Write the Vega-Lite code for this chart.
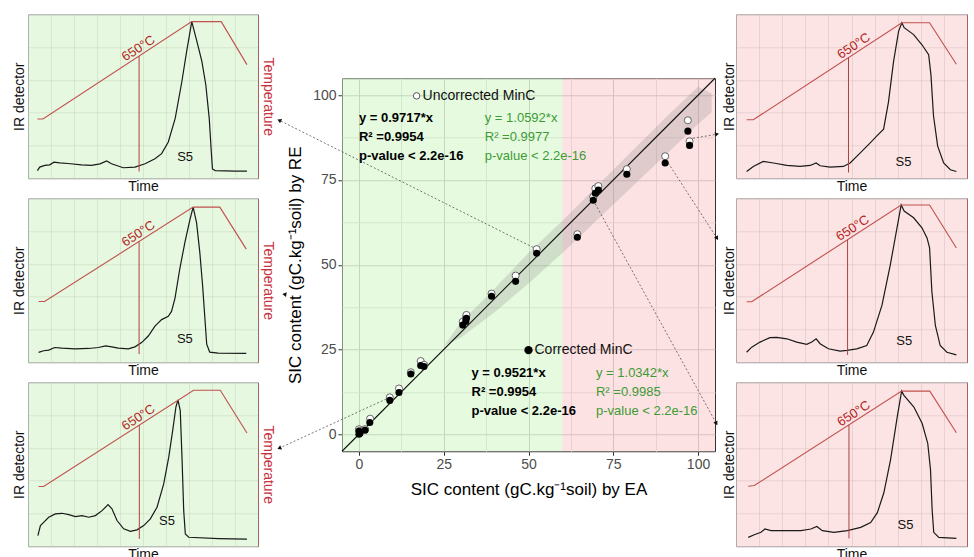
{
  "$schema": "https://vega.github.io/schema/vega-lite/v6.json",
  "padding": {"left": 11, "top": 13, "right": 0, "bottom": 0},
  "background": "white",
  "config": {"font": "Liberation Sans", "view": {"stroke": null}, "axis": {"titleFontWeight": "normal"}},
  "datasets": {
    "zones": [
      {"x": -5, "x2": 60, "y": -5, "y2": 105, "zone": "EA below 60"},
      {"x": 60, "x2": 105, "y": -5, "y2": 105, "zone": "EA above 60"}
    ],
    "band": [
      {"x": 25.5, "y": 26.3, "y2": 26.6},
      {"x": 30, "y": 28.5, "y2": 33},
      {"x": 40, "y": 36, "y2": 43},
      {"x": 50, "y": 44.5, "y2": 53.5},
      {"x": 60, "y": 53.5, "y2": 63},
      {"x": 70, "y": 63, "y2": 73},
      {"x": 80, "y": 72.5, "y2": 83},
      {"x": 90, "y": 82, "y2": 93},
      {"x": 100, "y": 91.5, "y2": 102.5},
      {"x": 104, "y": 95, "y2": 100.5}
    ],
    "diag": [{"x": -5, "y": -5}, {"x": 105, "y": 105}],
    "arrows": [
      {"id": "L1", "x": 52.4, "y": 54.6, "x2": -23.5, "y2": 92.6, "line": true},
      {"id": "L2", "x": 30.6, "y": 33.2, "x2": -22, "y2": 41.3, "line": false},
      {"id": "L3", "x": 9.1, "y": 10.9, "x2": -23.5, "y2": -4.1, "line": true},
      {"id": "R1", "x": 98.5, "y": 87.3, "x2": 105.6, "y2": 88.5, "line": true},
      {"id": "R2", "x": 91.2, "y": 80, "x2": 105.6, "y2": 57.8, "line": true},
      {"id": "R3", "x": 69.1, "y": 69, "x2": 105.4, "y2": 3.2, "line": true}
    ],
    "pts": [
      {"x": 0, "y": 0, "kind": "Corrected"}, {"x": 0, "y": 0.9, "kind": "Corrected"}, {"x": 0.3, "y": 0.3, "kind": "Corrected"},
      {"x": 1.8, "y": 1.2, "kind": "Corrected"}, {"x": 3.2, "y": 3.5, "kind": "Corrected"}, {"x": 9.1, "y": 10, "kind": "Corrected"},
      {"x": 11.8, "y": 12.3, "kind": "Corrected"}, {"x": 15.3, "y": 17.8, "kind": "Corrected"}, {"x": 18.2, "y": 20.3, "kind": "Corrected"},
      {"x": 19.2, "y": 20.0, "kind": "Corrected"}, {"x": 30.6, "y": 32.2, "kind": "Corrected"}, {"x": 31.5, "y": 33.3, "kind": "Corrected"},
      {"x": 31.7, "y": 34.2, "kind": "Corrected"}, {"x": 39.1, "y": 40.7, "kind": "Corrected"}, {"x": 46.2, "y": 45.1, "kind": "Corrected"},
      {"x": 52.4, "y": 53.4, "kind": "Corrected"}, {"x": 64.4, "y": 58.1, "kind": "Corrected"}, {"x": 69.1, "y": 69.0, "kind": "Corrected"},
      {"x": 69.7, "y": 71.1, "kind": "Corrected"}, {"x": 70.6, "y": 72.0, "kind": "Corrected"}, {"x": 79, "y": 76.7, "kind": "Corrected"},
      {"x": 90.3, "y": 80, "kind": "Corrected"}, {"x": 97, "y": 89.4, "kind": "Corrected"}, {"x": 97.5, "y": 85.2, "kind": "Corrected"},
      {"x": 0, "y": 1.5, "kind": "Uncorrected"}, {"x": 0.2, "y": 1.0, "kind": "Uncorrected"}, {"x": 1.8, "y": 1.5, "kind": "Uncorrected"},
      {"x": 3.3, "y": 4.6, "kind": "Uncorrected"}, {"x": 9.1, "y": 10.9, "kind": "Uncorrected"}, {"x": 11.8, "y": 13.5, "kind": "Uncorrected"},
      {"x": 15.3, "y": 18.3, "kind": "Uncorrected"}, {"x": 18.2, "y": 21.6, "kind": "Uncorrected"}, {"x": 19.2, "y": 20.5, "kind": "Uncorrected"},
      {"x": 30.6, "y": 33.2, "kind": "Uncorrected"}, {"x": 31.5, "y": 34.3, "kind": "Uncorrected"}, {"x": 31.7, "y": 35.2, "kind": "Uncorrected"},
      {"x": 39.1, "y": 41.5, "kind": "Uncorrected"}, {"x": 46.2, "y": 46.8, "kind": "Uncorrected"}, {"x": 52.4, "y": 54.6, "kind": "Uncorrected"},
      {"x": 64.4, "y": 59.0, "kind": "Uncorrected"}, {"x": 69.1, "y": 70.0, "kind": "Uncorrected"}, {"x": 69.7, "y": 72.5, "kind": "Uncorrected"},
      {"x": 70.6, "y": 73.2, "kind": "Uncorrected"}, {"x": 79, "y": 78.2, "kind": "Uncorrected"}, {"x": 90.3, "y": 82, "kind": "Uncorrected"},
      {"x": 97, "y": 92.6, "kind": "Uncorrected"}, {"x": 97.5, "y": 86.4, "kind": "Uncorrected"}
    ],
    "keys": [
      {"x": 17, "y": 99.8, "kind": "Uncorrected", "label": "Uncorrected MinC"},
      {"x": 50, "y": 24.8, "kind": "Corrected", "label": "Corrected MinC"}
    ],
    "eqs": [
      {"x": 0, "y": 93.2, "label": "y = 0.9717*x", "grp": "black"},
      {"x": 0, "y": 87.6, "label": "R² =0.9954", "grp": "black"},
      {"x": 0, "y": 82.0, "label": "p-value < 2.2e-16", "grp": "black"},
      {"x": 37.1, "y": 93.2, "label": "y = 1.0592*x", "grp": "green"},
      {"x": 37.1, "y": 87.6, "label": "R² =0.9977", "grp": "green"},
      {"x": 37.1, "y": 82.0, "label": "p-value < 2.2e-16", "grp": "green"},
      {"x": 33.2, "y": 18.0, "label": "y = 0.9521*x", "grp": "black"},
      {"x": 33.2, "y": 12.4, "label": "R² =0.9954", "grp": "black"},
      {"x": 33.2, "y": 6.8, "label": "p-value < 2.2e-16", "grp": "black"},
      {"x": 69.9, "y": 18.0, "label": "y = 1.0342*x", "grp": "green"},
      {"x": 69.9, "y": 12.4, "label": "R² =0.9985", "grp": "green"},
      {"x": 69.9, "y": 6.8, "label": "p-value < 2.2e-16", "grp": "green"}
    ],
    "curves": [
      {"p":"L1","s":"T","t":4.1,"v":36.1},{"p":"L1","s":"T","t":6.5,"v":36.1},{"p":"L1","s":"T","t":71.2,"v":95.5},{"p":"L1","s":"T","t":84,"v":95.5},{"p":"L1","s":"T","t":95.2,"v":69.3},
      {"p":"L2","s":"T","t":4.6,"v":37},{"p":"L2","s":"T","t":7.2,"v":37},{"p":"L2","s":"T","t":71.8,"v":94.6},{"p":"L2","s":"T","t":83.4,"v":94.6},{"p":"L2","s":"T","t":94.9,"v":69},
      {"p":"L3","s":"T","t":4.6,"v":36.4},{"p":"L3","s":"T","t":6.8,"v":36.4},{"p":"L3","s":"T","t":72,"v":95.1},{"p":"L3","s":"T","t":83.6,"v":95.1},{"p":"L3","s":"T","t":95.2,"v":69.1},
      {"p":"R1","s":"T","t":4.6,"v":35.7},{"p":"R1","s":"T","t":7.5,"v":35.7},{"p":"R1","s":"T","t":71.8,"v":94.8},{"p":"R1","s":"T","t":83.8,"v":94.8},{"p":"R1","s":"T","t":95.4,"v":69.5},
      {"p":"R2","s":"T","t":4.6,"v":36.9},{"p":"R2","s":"T","t":6.8,"v":36.9},{"p":"R2","s":"T","t":71.5,"v":95.9},{"p":"R2","s":"T","t":83.8,"v":95.9},{"p":"R2","s":"T","t":95.4,"v":69.7},
      {"p":"R3","s":"T","t":5.3,"v":36.6},{"p":"R3","s":"T","t":7.9,"v":37},{"p":"R3","s":"T","t":71.7,"v":94.6},{"p":"R3","s":"T","t":83.9,"v":94.6},{"p":"R3","s":"T","t":95.4,"v":69.2},
      {"p":"L1","s":"IR","t":4.1,"v":4.7},{"p":"L1","s":"IR","t":5.1,"v":6.8},{"p":"L1","s":"IR","t":7.3,"v":7.8},{"p":"L1","s":"IR","t":9.4,"v":8.2},{"p":"L1","s":"IR","t":11.3,"v":9.8},{"p":"L1","s":"IR","t":13.8,"v":9.4},{"p":"L1","s":"IR","t":17.4,"v":9.0},{"p":"L1","s":"IR","t":23.3,"v":8.2},{"p":"L1","s":"IR","t":27.6,"v":7.8},{"p":"L1","s":"IR","t":31.3,"v":8.8},{"p":"L1","s":"IR","t":34.2,"v":10.5},{"p":"L1","s":"IR","t":36.3,"v":8.8},{"p":"L1","s":"IR","t":41.4,"v":6.4},{"p":"L1","s":"IR","t":46.5,"v":6.8},{"p":"L1","s":"IR","t":50.9,"v":8.8},{"p":"L1","s":"IR","t":55.2,"v":11.9},{"p":"L1","s":"IR","t":58.1,"v":15.0},{"p":"L1","s":"IR","t":61.0,"v":22.1},{"p":"L1","s":"IR","t":64.0,"v":36.5},{"p":"L1","s":"IR","t":66.9,"v":59.0},{"p":"L1","s":"IR","t":69.0,"v":77.5},{"p":"L1","s":"IR","t":71.2,"v":95.5},{"p":"L1","s":"IR","t":73.4,"v":83.6},{"p":"L1","s":"IR","t":75.6,"v":71.3},{"p":"L1","s":"IR","t":77.3,"v":57.0},{"p":"L1","s":"IR","t":78.8,"v":36.5},{"p":"L1","s":"IR","t":79.7,"v":16.0},{"p":"L1","s":"IR","t":80.2,"v":5.7},{"p":"L1","s":"IR","t":81.4,"v":4.7},{"p":"L1","s":"IR","t":90.1,"v":4.3},{"p":"L1","s":"IR","t":95.2,"v":4.3},
      {"p":"L2","s":"IR","t":4.6,"v":6.0},{"p":"L2","s":"IR","t":6.8,"v":7.0},{"p":"L2","s":"IR","t":9.0,"v":7.4},{"p":"L2","s":"IR","t":11.6,"v":9.0},{"p":"L2","s":"IR","t":14.7,"v":8.6},{"p":"L2","s":"IR","t":20.5,"v":8.2},{"p":"L2","s":"IR","t":26.3,"v":8.4},{"p":"L2","s":"IR","t":30.6,"v":9.0},{"p":"L2","s":"IR","t":33.8,"v":10.0},{"p":"L2","s":"IR","t":36.4,"v":9.4},{"p":"L2","s":"IR","t":39.3,"v":8.6},{"p":"L2","s":"IR","t":43.6,"v":8.2},{"p":"L2","s":"IR","t":46.5,"v":9.4},{"p":"L2","s":"IR","t":49.4,"v":12.0},{"p":"L2","s":"IR","t":52.3,"v":16.0},{"p":"L2","s":"IR","t":55.2,"v":22.0},{"p":"L2","s":"IR","t":58.1,"v":26.0},{"p":"L2","s":"IR","t":61.0,"v":28.0},{"p":"L2","s":"IR","t":62.4,"v":31.0},{"p":"L2","s":"IR","t":63.9,"v":39.0},{"p":"L2","s":"IR","t":66.0,"v":57.0},{"p":"L2","s":"IR","t":68.2,"v":73.0},{"p":"L2","s":"IR","t":70.4,"v":87.0},{"p":"L2","s":"IR","t":71.8,"v":94.6},{"p":"L2","s":"IR","t":73.3,"v":85.0},{"p":"L2","s":"IR","t":74.7,"v":67.0},{"p":"L2","s":"IR","t":75.9,"v":47.0},{"p":"L2","s":"IR","t":76.9,"v":27.0},{"p":"L2","s":"IR","t":77.7,"v":11.0},{"p":"L2","s":"IR","t":79.0,"v":6.2},{"p":"L2","s":"IR","t":82.7,"v":5.6},{"p":"L2","s":"IR","t":94.9,"v":5.4},
      {"p":"L3","s":"IR","t":4.3,"v":6.5},{"p":"L3","s":"IR","t":5.4,"v":12.6},{"p":"L3","s":"IR","t":6.8,"v":14.6},{"p":"L3","s":"IR","t":9.0,"v":17.7},{"p":"L3","s":"IR","t":11.9,"v":19.7},{"p":"L3","s":"IR","t":14.8,"v":20.1},{"p":"L3","s":"IR","t":17.7,"v":19.3},{"p":"L3","s":"IR","t":20.6,"v":18.1},{"p":"L3","s":"IR","t":23.5,"v":18.7},{"p":"L3","s":"IR","t":26.4,"v":17.7},{"p":"L3","s":"IR","t":29.3,"v":18.7},{"p":"L3","s":"IR","t":32.2,"v":21.7},{"p":"L3","s":"IR","t":34.8,"v":25.4},{"p":"L3","s":"IR","t":36.5,"v":22.8},{"p":"L3","s":"IR","t":38.7,"v":15.7},{"p":"L3","s":"IR","t":41.6,"v":10.6},{"p":"L3","s":"IR","t":44.5,"v":9.1},{"p":"L3","s":"IR","t":47.4,"v":10.0},{"p":"L3","s":"IR","t":50.3,"v":12.6},{"p":"L3","s":"IR","t":53.2,"v":16.7},{"p":"L3","s":"IR","t":56.1,"v":23.8},{"p":"L3","s":"IR","t":59.0,"v":38.0},{"p":"L3","s":"IR","t":61.2,"v":54.3},{"p":"L3","s":"IR","t":62.9,"v":70.5},{"p":"L3","s":"IR","t":64.3,"v":84.8},{"p":"L3","s":"IR","t":65.2,"v":89.2},{"p":"L3","s":"IR","t":66.2,"v":82.7},{"p":"L3","s":"IR","t":67.0,"v":52.2},{"p":"L3","s":"IR","t":67.7,"v":21.7},{"p":"L3","s":"IR","t":68.4,"v":7.5},{"p":"L3","s":"IR","t":69.9,"v":5.5},{"p":"L3","s":"IR","t":82.9,"v":4.7},{"p":"L3","s":"IR","t":95.2,"v":4.3},
      {"p":"R1","s":"IR","t":4.6,"v":4.1},{"p":"R1","s":"IR","t":7.5,"v":7.2},{"p":"R1","s":"IR","t":11.8,"v":10.3},{"p":"R1","s":"IR","t":16.2,"v":9.3},{"p":"R1","s":"IR","t":22.0,"v":7.8},{"p":"R1","s":"IR","t":27.7,"v":7.2},{"p":"R1","s":"IR","t":32.1,"v":7.8},{"p":"R1","s":"IR","t":34.7,"v":9.3},{"p":"R1","s":"IR","t":36.4,"v":7.6},{"p":"R1","s":"IR","t":40.8,"v":6.8},{"p":"R1","s":"IR","t":46.5,"v":7.2},{"p":"R1","s":"IR","t":49.4,"v":9.3},{"p":"R1","s":"IR","t":53.8,"v":15.5},{"p":"R1","s":"IR","t":58.1,"v":21.6},{"p":"R1","s":"IR","t":61.0,"v":25.8},{"p":"R1","s":"IR","t":63.9,"v":29.9},{"p":"R1","s":"IR","t":66.0,"v":46.4},{"p":"R1","s":"IR","t":68.2,"v":71.1},{"p":"R1","s":"IR","t":70.4,"v":89.7},{"p":"R1","s":"IR","t":71.8,"v":94.8},{"p":"R1","s":"IR","t":72.8,"v":91.8},{"p":"R1","s":"IR","t":76.9,"v":87.6},{"p":"R1","s":"IR","t":80.5,"v":81.4},{"p":"R1","s":"IR","t":83.4,"v":75.3},{"p":"R1","s":"IR","t":84.4,"v":62.9},{"p":"R1","s":"IR","t":85.5,"v":38.1},{"p":"R1","s":"IR","t":87.3,"v":19.6},{"p":"R1","s":"IR","t":89.9,"v":9.3},{"p":"R1","s":"IR","t":92.8,"v":5.2},{"p":"R1","s":"IR","t":95.4,"v":4.1},
      {"p":"R2","s":"IR","t":4.6,"v":6.1},{"p":"R2","s":"IR","t":6.8,"v":9.2},{"p":"R2","s":"IR","t":10.4,"v":12.3},{"p":"R2","s":"IR","t":14.7,"v":15.0},{"p":"R2","s":"IR","t":17.6,"v":15.2},{"p":"R2","s":"IR","t":22.0,"v":14.3},{"p":"R2","s":"IR","t":26.3,"v":12.3},{"p":"R2","s":"IR","t":30.6,"v":10.9},{"p":"R2","s":"IR","t":32.8,"v":12.3},{"p":"R2","s":"IR","t":34.7,"v":14.3},{"p":"R2","s":"IR","t":36.4,"v":11.3},{"p":"R2","s":"IR","t":40.0,"v":8.2},{"p":"R2","s":"IR","t":45.1,"v":6.8},{"p":"R2","s":"IR","t":48.0,"v":7.2},{"p":"R2","s":"IR","t":52.3,"v":8.2},{"p":"R2","s":"IR","t":56.6,"v":10.2},{"p":"R2","s":"IR","t":59.5,"v":18.4},{"p":"R2","s":"IR","t":63.2,"v":34.8},{"p":"R2","s":"IR","t":66.8,"v":59.4},{"p":"R2","s":"IR","t":69.7,"v":82.0},{"p":"R2","s":"IR","t":71.5,"v":95.9},{"p":"R2","s":"IR","t":72.8,"v":92.2},{"p":"R2","s":"IR","t":76.9,"v":88.1},{"p":"R2","s":"IR","t":80.5,"v":82.0},{"p":"R2","s":"IR","t":82.7,"v":75.8},{"p":"R2","s":"IR","t":83.8,"v":69.7},{"p":"R2","s":"IR","t":84.8,"v":43.0},{"p":"R2","s":"IR","t":86.3,"v":22.5},{"p":"R2","s":"IR","t":88.4,"v":10.2},{"p":"R2","s":"IR","t":91.3,"v":6.1},{"p":"R2","s":"IR","t":95.4,"v":4.5},
      {"p":"R3","s":"IR","t":5.3,"v":5.4},{"p":"R3","s":"IR","t":7.9,"v":7.0},{"p":"R3","s":"IR","t":10.8,"v":8.5},{"p":"R3","s":"IR","t":12.5,"v":10.5},{"p":"R3","s":"IR","t":15.1,"v":9.5},{"p":"R3","s":"IR","t":22.3,"v":9.5},{"p":"R3","s":"IR","t":28.1,"v":9.5},{"p":"R3","s":"IR","t":32.4,"v":10.5},{"p":"R3","s":"IR","t":35.0,"v":12.1},{"p":"R3","s":"IR","t":37.4,"v":9.5},{"p":"R3","s":"IR","t":42.4,"v":8.5},{"p":"R3","s":"IR","t":48.2,"v":9.5},{"p":"R3","s":"IR","t":54.0,"v":11.5},{"p":"R3","s":"IR","t":58.3,"v":14.5},{"p":"R3","s":"IR","t":61.2,"v":20.5},{"p":"R3","s":"IR","t":64.0,"v":32.6},{"p":"R3","s":"IR","t":66.9,"v":52.7},{"p":"R3","s":"IR","t":69.8,"v":78.9},{"p":"R3","s":"IR","t":71.7,"v":94.6},{"p":"R3","s":"IR","t":72.7,"v":92.0},{"p":"R3","s":"IR","t":77.0,"v":84.9},{"p":"R3","s":"IR","t":80.6,"v":74.8},{"p":"R3","s":"IR","t":83.0,"v":62.8},{"p":"R3","s":"IR","t":84.2,"v":46.7},{"p":"R3","s":"IR","t":84.9,"v":22.5},{"p":"R3","s":"IR","t":85.6,"v":8.5},{"p":"R3","s":"IR","t":87.8,"v":5.4},{"p":"R3","s":"IR","t":95.4,"v":4.8}
    ],
    "marks650": [
      {"p": "L1", "t": 48.3, "y0": 4.1, "y1": 74.5},
      {"p": "L2", "t": 48.3, "y0": 5.0, "y1": 73.6},
      {"p": "L3", "t": 48.4, "y0": 4.5, "y1": 73.9},
      {"p": "R1", "t": 48.7, "y0": 3.5, "y1": 73.6},
      {"p": "R2", "t": 48.3, "y0": 4.5, "y1": 74.7},
      {"p": "R3", "t": 48.9, "y0": 4.8, "y1": 74.0}
    ],
    "tags": [
      {"p": "L1", "kind": "temp", "t": 48, "v": 79.2, "label": "650°C"},
      {"p": "L2", "kind": "temp", "t": 48, "v": 78.4, "label": "650°C"},
      {"p": "L3", "kind": "temp", "t": 48, "v": 78.5, "label": "650°C"},
      {"p": "R1", "kind": "temp", "t": 51, "v": 80.7, "label": "650°C"},
      {"p": "R2", "kind": "temp", "t": 50.5, "v": 81.8, "label": "650°C"},
      {"p": "R3", "kind": "temp", "t": 51, "v": 80.9, "label": "650°C"},
      {"p": "L1", "kind": "sample", "t": 68.3, "v": 12.9, "label": "S5"},
      {"p": "L2", "kind": "sample", "t": 68.2, "v": 14.0, "label": "S5"},
      {"p": "L3", "kind": "sample", "t": 60.4, "v": 15.7, "label": "S5"},
      {"p": "R1", "kind": "sample", "t": 72.5, "v": 9.7, "label": "S5"},
      {"p": "R2", "kind": "sample", "t": 72.8, "v": 12.7, "label": "S5"},
      {"p": "R3", "kind": "sample", "t": 73.4, "v": 12.9, "label": "S5"}
    ]
  },
  "spacing": 1,
  "center": true,
  "hconcat": [
    {
      "spacing": 3,
      "vconcat": [
        {
          "width": 230, "height": 164,
          "view": {"fill": "#e6f8df", "stroke": "#a8a8a8"},
          "layer": [
            {"data": {"name": "curves"}, "transform": [{"filter": "datum.p == 'L1' && datum.s == 'IR'"}],
             "mark": {"type": "line", "color": "#1a1a1a", "strokeWidth": 1.2},
             "encoding": {
               "x": {"field": "t", "type": "quantitative", "scale": {"domain": [0, 100], "nice": false}, "axis": {"title": "Time", "labels": false, "ticks": false, "domain": false, "grid": true, "gridColor": "#b5c9b0", "gridOpacity": 0.35, "tickCount": 8, "titleFontSize": 14, "titlePadding": 1, "titleColor": "#111111"}},
               "y": {"field": "v", "type": "quantitative", "scale": {"domain": [0, 100], "nice": false}, "axis": {"title": "IR detector", "labels": false, "ticks": false, "domain": false, "grid": true, "gridColor": "#b5c9b0", "gridOpacity": 0.35, "tickCount": 5, "titleFontSize": 14, "titlePadding": 2, "titleColor": "#111111"}}
             }},
            {"data": {"name": "curves"}, "transform": [{"filter": "datum.p == 'L1' && datum.s == 'T'"}],
             "mark": {"type": "line", "color": "#c0504d", "strokeWidth": 1.1},
             "encoding": {
               "x": {"field": "t", "type": "quantitative"},
               "y": {"field": "v", "type": "quantitative", "scale": {"domain": [0, 100], "nice": false}, "axis": {"orient": "right", "title": "Temperature", "titleColor": "#c8323c", "titleFontSize": 14, "titlePadding": 2, "labels": false, "ticks": false, "grid": false, "domain": true, "domainColor": "#a86060"}}
             }},
            {"data": {"name": "marks650"}, "transform": [{"filter": "datum.p == 'L1'"}],
             "mark": {"type": "rule", "color": "#b0403a", "strokeWidth": 1},
             "encoding": {"x": {"field": "t", "type": "quantitative"}, "y": {"field": "y0", "type": "quantitative", "scale": {"domain": [0, 100], "nice": false}, "axis": null}, "y2": {"field": "y1"}}},
            {"data": {"name": "tags"}, "transform": [{"filter": "datum.p == 'L1' && datum.kind == 'temp'"}],
             "mark": {"type": "text", "angle": -33, "color": "#b22222", "fontSize": 13, "baseline": "middle", "align": "center"},
             "encoding": {"x": {"field": "t", "type": "quantitative"}, "y": {"field": "v", "type": "quantitative", "scale": {"domain": [0, 100], "nice": false}, "axis": null}, "text": {"field": "label"}}},
            {"data": {"name": "tags"}, "transform": [{"filter": "datum.p == 'L1' && datum.kind == 'sample'"}],
             "mark": {"type": "text", "color": "#111111", "fontSize": 13, "baseline": "middle", "align": "center"},
             "encoding": {"x": {"field": "t", "type": "quantitative"}, "y": {"field": "v", "type": "quantitative", "scale": {"domain": [0, 100], "nice": false}, "axis": null}, "text": {"field": "label"}}}
          ],
          "resolve": {"scale": {"y": "independent"}}
        },
        {
          "width": 230, "height": 164,
          "view": {"fill": "#e6f8df", "stroke": "#a8a8a8"},
          "layer": [
            {"data": {"name": "curves"}, "transform": [{"filter": "datum.p == 'L2' && datum.s == 'IR'"}],
             "mark": {"type": "line", "color": "#1a1a1a", "strokeWidth": 1.2},
             "encoding": {
               "x": {"field": "t", "type": "quantitative", "scale": {"domain": [0, 100], "nice": false}, "axis": {"title": "Time", "labels": false, "ticks": false, "domain": false, "grid": true, "gridColor": "#b5c9b0", "gridOpacity": 0.35, "tickCount": 8, "titleFontSize": 14, "titlePadding": 1, "titleColor": "#111111"}},
               "y": {"field": "v", "type": "quantitative", "scale": {"domain": [0, 100], "nice": false}, "axis": {"title": "IR detector", "labels": false, "ticks": false, "domain": false, "grid": true, "gridColor": "#b5c9b0", "gridOpacity": 0.35, "tickCount": 5, "titleFontSize": 14, "titlePadding": 2, "titleColor": "#111111"}}
             }},
            {"data": {"name": "curves"}, "transform": [{"filter": "datum.p == 'L2' && datum.s == 'T'"}],
             "mark": {"type": "line", "color": "#c0504d", "strokeWidth": 1.1},
             "encoding": {
               "x": {"field": "t", "type": "quantitative"},
               "y": {"field": "v", "type": "quantitative", "scale": {"domain": [0, 100], "nice": false}, "axis": {"orient": "right", "title": "Temperature", "titleColor": "#c8323c", "titleFontSize": 14, "titlePadding": 2, "labels": false, "ticks": false, "grid": false, "domain": true, "domainColor": "#a86060"}}
             }},
            {"data": {"name": "marks650"}, "transform": [{"filter": "datum.p == 'L2'"}],
             "mark": {"type": "rule", "color": "#b0403a", "strokeWidth": 1},
             "encoding": {"x": {"field": "t", "type": "quantitative"}, "y": {"field": "y0", "type": "quantitative", "scale": {"domain": [0, 100], "nice": false}, "axis": null}, "y2": {"field": "y1"}}},
            {"data": {"name": "tags"}, "transform": [{"filter": "datum.p == 'L2' && datum.kind == 'temp'"}],
             "mark": {"type": "text", "angle": -33, "color": "#b22222", "fontSize": 13, "baseline": "middle", "align": "center"},
             "encoding": {"x": {"field": "t", "type": "quantitative"}, "y": {"field": "v", "type": "quantitative", "scale": {"domain": [0, 100], "nice": false}, "axis": null}, "text": {"field": "label"}}},
            {"data": {"name": "tags"}, "transform": [{"filter": "datum.p == 'L2' && datum.kind == 'sample'"}],
             "mark": {"type": "text", "color": "#111111", "fontSize": 13, "baseline": "middle", "align": "center"},
             "encoding": {"x": {"field": "t", "type": "quantitative"}, "y": {"field": "v", "type": "quantitative", "scale": {"domain": [0, 100], "nice": false}, "axis": null}, "text": {"field": "label"}}}
          ],
          "resolve": {"scale": {"y": "independent"}}
        },
        {
          "width": 230, "height": 164,
          "view": {"fill": "#e6f8df", "stroke": "#a8a8a8"},
          "layer": [
            {"data": {"name": "curves"}, "transform": [{"filter": "datum.p == 'L3' && datum.s == 'IR'"}],
             "mark": {"type": "line", "color": "#1a1a1a", "strokeWidth": 1.2},
             "encoding": {
               "x": {"field": "t", "type": "quantitative", "scale": {"domain": [0, 100], "nice": false}, "axis": {"title": "Time", "labels": false, "ticks": false, "domain": false, "grid": true, "gridColor": "#b5c9b0", "gridOpacity": 0.35, "tickCount": 8, "titleFontSize": 14, "titlePadding": 1, "titleColor": "#111111"}},
               "y": {"field": "v", "type": "quantitative", "scale": {"domain": [0, 100], "nice": false}, "axis": {"title": "IR detector", "labels": false, "ticks": false, "domain": false, "grid": true, "gridColor": "#b5c9b0", "gridOpacity": 0.35, "tickCount": 5, "titleFontSize": 14, "titlePadding": 2, "titleColor": "#111111"}}
             }},
            {"data": {"name": "curves"}, "transform": [{"filter": "datum.p == 'L3' && datum.s == 'T'"}],
             "mark": {"type": "line", "color": "#c0504d", "strokeWidth": 1.1},
             "encoding": {
               "x": {"field": "t", "type": "quantitative"},
               "y": {"field": "v", "type": "quantitative", "scale": {"domain": [0, 100], "nice": false}, "axis": {"orient": "right", "title": "Temperature", "titleColor": "#c8323c", "titleFontSize": 14, "titlePadding": 2, "labels": false, "ticks": false, "grid": false, "domain": true, "domainColor": "#a86060"}}
             }},
            {"data": {"name": "marks650"}, "transform": [{"filter": "datum.p == 'L3'"}],
             "mark": {"type": "rule", "color": "#b0403a", "strokeWidth": 1},
             "encoding": {"x": {"field": "t", "type": "quantitative"}, "y": {"field": "y0", "type": "quantitative", "scale": {"domain": [0, 100], "nice": false}, "axis": null}, "y2": {"field": "y1"}}},
            {"data": {"name": "tags"}, "transform": [{"filter": "datum.p == 'L3' && datum.kind == 'temp'"}],
             "mark": {"type": "text", "angle": -33, "color": "#b22222", "fontSize": 13, "baseline": "middle", "align": "center"},
             "encoding": {"x": {"field": "t", "type": "quantitative"}, "y": {"field": "v", "type": "quantitative", "scale": {"domain": [0, 100], "nice": false}, "axis": null}, "text": {"field": "label"}}},
            {"data": {"name": "tags"}, "transform": [{"filter": "datum.p == 'L3' && datum.kind == 'sample'"}],
             "mark": {"type": "text", "color": "#111111", "fontSize": 13, "baseline": "middle", "align": "center"},
             "encoding": {"x": {"field": "t", "type": "quantitative"}, "y": {"field": "v", "type": "quantitative", "scale": {"domain": [0, 100], "nice": false}, "axis": null}, "text": {"field": "label"}}}
          ],
          "resolve": {"scale": {"y": "independent"}}
        }
      ]
    },
    {
      "width": 373, "height": 373,
      "view": {"stroke": "#333333", "strokeWidth": 1},
      "encoding": {
        "x": {"field": "x", "type": "quantitative", "scale": {"domain": [-5, 105], "nice": false, "zero": false},
              "axis": {"title": "SIC content (gC.kg⁻¹soil) by EA", "values": [0, 12.5, 25, 37.5, 50, 62.5, 75, 87.5, 100],
                       "labelExpr": "datum.value % 25 == 0 ? datum.label : ''", "labelOverlap": false, "labelFontSize": 14, "labelColor": "#4d4d4d", "labelPadding": 2,
                       "tickColor": "#333333", "tickSize": 4, "tickOpacity": {"condition": {"test": "datum.value % 25 == 0", "value": 1}, "value": 0},
                       "gridColor": {"condition": {"test": "datum.value % 25 == 0", "value": "#b8b8b8"}, "value": "#d8d8d8"}, "gridOpacity": 1,
                       "domain": false, "titleFontSize": 17, "titleColor": "#000000", "titlePadding": 10}},
        "y": {"field": "y", "type": "quantitative", "scale": {"domain": [-5, 105], "nice": false, "zero": false},
              "axis": {"title": "SIC content (gC.kg⁻¹soil) by RE", "values": [0, 12.5, 25, 37.5, 50, 62.5, 75, 87.5, 100],
                       "labelExpr": "datum.value % 25 == 0 ? datum.label : ''", "labelOverlap": false, "labelFontSize": 14, "labelColor": "#4d4d4d", "labelPadding": 2,
                       "tickColor": "#333333", "tickSize": 4, "tickOpacity": {"condition": {"test": "datum.value % 25 == 0", "value": 1}, "value": 0},
                       "gridColor": {"condition": {"test": "datum.value % 25 == 0", "value": "#b8b8b8"}, "value": "#d8d8d8"}, "gridOpacity": 1,
                       "domain": false, "titleFontSize": 17, "titleColor": "#000000", "titlePadding": 8}}
      },
      "layer": [
        {"data": {"name": "zones"}, "mark": {"type": "rect", "opacity": 0.5},
         "encoding": {"x2": {"field": "x2"}, "y2": {"field": "y2"},
                      "color": {"field": "zone", "type": "nominal", "scale": {"domain": ["EA below 60", "EA above 60"], "range": ["#cdf5c0", "#fac6c6"]}, "legend": null}}},
        {"data": {"name": "band"}, "mark": {"type": "area", "color": "#7a7a7a", "opacity": 0.22}, "encoding": {"y2": {"field": "y2"}}},
        {"data": {"name": "diag"}, "mark": {"type": "line", "color": "#111111", "strokeWidth": 1.1}},
        {"data": {"name": "arrows"}, "transform": [{"filter": "datum.line"}],
         "mark": {"type": "rule", "color": "#555555", "strokeWidth": 0.8, "strokeDash": [2, 2]},
         "encoding": {"x2": {"field": "x2"}, "y2": {"field": "y2"}}},
        {"data": {"name": "pts"}, "transform": [{"filter": "datum.kind == 'Uncorrected'"}],
         "mark": {"type": "circle", "fill": "#ffffff", "stroke": "#555555", "strokeWidth": 0.9, "size": 50, "opacity": 1}},
        {"data": {"name": "pts"}, "transform": [{"filter": "datum.kind == 'Corrected'"}],
         "mark": {"type": "circle", "color": "#000000", "size": 50, "opacity": 1}},
        {"data": {"name": "keys"}, "transform": [{"filter": "datum.kind == 'Uncorrected'"}],
         "mark": {"type": "circle", "fill": "#ffffff", "stroke": "#444444", "strokeWidth": 0.9, "size": 42, "opacity": 1}},
        {"data": {"name": "keys"}, "transform": [{"filter": "datum.kind == 'Corrected'"}],
         "mark": {"type": "circle", "color": "#000000", "size": 68, "opacity": 1}},
        {"data": {"name": "keys"},
         "mark": {"type": "text", "align": "left", "baseline": "middle", "dx": 6, "fontSize": 14, "color": "#111111"},
         "encoding": {"text": {"field": "label"}}},
        {"data": {"name": "eqs"}, "transform": [{"filter": "datum.grp == 'black'"}],
         "mark": {"type": "text", "align": "left", "baseline": "middle", "fontSize": 13, "fontWeight": "bold", "color": "#000000"},
         "encoding": {"text": {"field": "label"}}},
        {"data": {"name": "eqs"}, "transform": [{"filter": "datum.grp == 'green'"}],
         "mark": {"type": "text", "align": "left", "baseline": "middle", "fontSize": 13, "color": "#3d9b35"},
         "encoding": {"text": {"field": "label"}}},
        {"data": {"name": "arrows"},
         "transform": [
           {"calculate": "(atan2(datum.x2 - datum.x, datum.y2 - datum.y) * 180 / PI + 360) % 360", "as": "ang"},
           {"calculate": "datum.x2", "as": "x"},
           {"calculate": "datum.y2", "as": "y"}
         ],
         "mark": {"type": "point", "shape": "triangle-up", "filled": true, "color": "#111111", "size": 22, "opacity": 1},
         "encoding": {"angle": {"field": "ang", "type": "quantitative", "scale": null}}}
      ]
    },
    {
      "spacing": 3,
      "vconcat": [
        {
          "width": 231, "height": 164,
          "view": {"fill": "#fce4e4", "stroke": "#a8a8a8"},
          "layer": [
            {"data": {"name": "curves"}, "transform": [{"filter": "datum.p == 'R1' && datum.s == 'IR'"}],
             "mark": {"type": "line", "color": "#1a1a1a", "strokeWidth": 1.2},
             "encoding": {
               "x": {"field": "t", "type": "quantitative", "scale": {"domain": [0, 100], "nice": false}, "axis": {"title": "Time", "labels": false, "ticks": false, "domain": false, "grid": true, "gridColor": "#c9b0b0", "gridOpacity": 0.35, "tickCount": 8, "titleFontSize": 14, "titlePadding": 1, "titleColor": "#111111"}},
               "y": {"field": "v", "type": "quantitative", "scale": {"domain": [0, 100], "nice": false}, "axis": {"title": "IR detector", "labels": false, "ticks": false, "domain": false, "grid": true, "gridColor": "#c9b0b0", "gridOpacity": 0.35, "tickCount": 5, "titleFontSize": 14, "titlePadding": 0, "titleColor": "#111111"}}
             }},
            {"data": {"name": "curves"}, "transform": [{"filter": "datum.p == 'R1' && datum.s == 'T'"}],
             "mark": {"type": "line", "color": "#c0504d", "strokeWidth": 1.1},
             "encoding": {
               "x": {"field": "t", "type": "quantitative"},
               "y": {"field": "v", "type": "quantitative", "scale": {"domain": [0, 100], "nice": false}, "axis": {"orient": "right", "title": null, "labels": false, "ticks": false, "grid": false, "domain": true, "domainColor": "#a86060"}}
             }},
            {"data": {"name": "marks650"}, "transform": [{"filter": "datum.p == 'R1'"}],
             "mark": {"type": "rule", "color": "#b0403a", "strokeWidth": 1},
             "encoding": {"x": {"field": "t", "type": "quantitative"}, "y": {"field": "y0", "type": "quantitative", "scale": {"domain": [0, 100], "nice": false}, "axis": null}, "y2": {"field": "y1"}}},
            {"data": {"name": "tags"}, "transform": [{"filter": "datum.p == 'R1' && datum.kind == 'temp'"}],
             "mark": {"type": "text", "angle": -33, "color": "#b22222", "fontSize": 13, "baseline": "middle", "align": "center"},
             "encoding": {"x": {"field": "t", "type": "quantitative"}, "y": {"field": "v", "type": "quantitative", "scale": {"domain": [0, 100], "nice": false}, "axis": null}, "text": {"field": "label"}}},
            {"data": {"name": "tags"}, "transform": [{"filter": "datum.p == 'R1' && datum.kind == 'sample'"}],
             "mark": {"type": "text", "color": "#111111", "fontSize": 13, "baseline": "middle", "align": "center"},
             "encoding": {"x": {"field": "t", "type": "quantitative"}, "y": {"field": "v", "type": "quantitative", "scale": {"domain": [0, 100], "nice": false}, "axis": null}, "text": {"field": "label"}}}
          ],
          "resolve": {"scale": {"y": "independent"}}
        },
        {
          "width": 231, "height": 164,
          "view": {"fill": "#fce4e4", "stroke": "#a8a8a8"},
          "layer": [
            {"data": {"name": "curves"}, "transform": [{"filter": "datum.p == 'R2' && datum.s == 'IR'"}],
             "mark": {"type": "line", "color": "#1a1a1a", "strokeWidth": 1.2},
             "encoding": {
               "x": {"field": "t", "type": "quantitative", "scale": {"domain": [0, 100], "nice": false}, "axis": {"title": "Time", "labels": false, "ticks": false, "domain": false, "grid": true, "gridColor": "#c9b0b0", "gridOpacity": 0.35, "tickCount": 8, "titleFontSize": 14, "titlePadding": 1, "titleColor": "#111111"}},
               "y": {"field": "v", "type": "quantitative", "scale": {"domain": [0, 100], "nice": false}, "axis": {"title": "IR detector", "labels": false, "ticks": false, "domain": false, "grid": true, "gridColor": "#c9b0b0", "gridOpacity": 0.35, "tickCount": 5, "titleFontSize": 14, "titlePadding": 0, "titleColor": "#111111"}}
             }},
            {"data": {"name": "curves"}, "transform": [{"filter": "datum.p == 'R2' && datum.s == 'T'"}],
             "mark": {"type": "line", "color": "#c0504d", "strokeWidth": 1.1},
             "encoding": {
               "x": {"field": "t", "type": "quantitative"},
               "y": {"field": "v", "type": "quantitative", "scale": {"domain": [0, 100], "nice": false}, "axis": {"orient": "right", "title": null, "labels": false, "ticks": false, "grid": false, "domain": true, "domainColor": "#a86060"}}
             }},
            {"data": {"name": "marks650"}, "transform": [{"filter": "datum.p == 'R2'"}],
             "mark": {"type": "rule", "color": "#b0403a", "strokeWidth": 1},
             "encoding": {"x": {"field": "t", "type": "quantitative"}, "y": {"field": "y0", "type": "quantitative", "scale": {"domain": [0, 100], "nice": false}, "axis": null}, "y2": {"field": "y1"}}},
            {"data": {"name": "tags"}, "transform": [{"filter": "datum.p == 'R2' && datum.kind == 'temp'"}],
             "mark": {"type": "text", "angle": -33, "color": "#b22222", "fontSize": 13, "baseline": "middle", "align": "center"},
             "encoding": {"x": {"field": "t", "type": "quantitative"}, "y": {"field": "v", "type": "quantitative", "scale": {"domain": [0, 100], "nice": false}, "axis": null}, "text": {"field": "label"}}},
            {"data": {"name": "tags"}, "transform": [{"filter": "datum.p == 'R2' && datum.kind == 'sample'"}],
             "mark": {"type": "text", "color": "#111111", "fontSize": 13, "baseline": "middle", "align": "center"},
             "encoding": {"x": {"field": "t", "type": "quantitative"}, "y": {"field": "v", "type": "quantitative", "scale": {"domain": [0, 100], "nice": false}, "axis": null}, "text": {"field": "label"}}}
          ],
          "resolve": {"scale": {"y": "independent"}}
        },
        {
          "width": 231, "height": 164,
          "view": {"fill": "#fce4e4", "stroke": "#a8a8a8"},
          "layer": [
            {"data": {"name": "curves"}, "transform": [{"filter": "datum.p == 'R3' && datum.s == 'IR'"}],
             "mark": {"type": "line", "color": "#1a1a1a", "strokeWidth": 1.2},
             "encoding": {
               "x": {"field": "t", "type": "quantitative", "scale": {"domain": [0, 100], "nice": false}, "axis": {"title": "Time", "labels": false, "ticks": false, "domain": false, "grid": true, "gridColor": "#c9b0b0", "gridOpacity": 0.35, "tickCount": 8, "titleFontSize": 14, "titlePadding": 1, "titleColor": "#111111"}},
               "y": {"field": "v", "type": "quantitative", "scale": {"domain": [0, 100], "nice": false}, "axis": {"title": "IR detector", "labels": false, "ticks": false, "domain": false, "grid": true, "gridColor": "#c9b0b0", "gridOpacity": 0.35, "tickCount": 5, "titleFontSize": 14, "titlePadding": 0, "titleColor": "#111111"}}
             }},
            {"data": {"name": "curves"}, "transform": [{"filter": "datum.p == 'R3' && datum.s == 'T'"}],
             "mark": {"type": "line", "color": "#c0504d", "strokeWidth": 1.1},
             "encoding": {
               "x": {"field": "t", "type": "quantitative"},
               "y": {"field": "v", "type": "quantitative", "scale": {"domain": [0, 100], "nice": false}, "axis": {"orient": "right", "title": null, "labels": false, "ticks": false, "grid": false, "domain": true, "domainColor": "#a86060"}}
             }},
            {"data": {"name": "marks650"}, "transform": [{"filter": "datum.p == 'R3'"}],
             "mark": {"type": "rule", "color": "#b0403a", "strokeWidth": 1},
             "encoding": {"x": {"field": "t", "type": "quantitative"}, "y": {"field": "y0", "type": "quantitative", "scale": {"domain": [0, 100], "nice": false}, "axis": null}, "y2": {"field": "y1"}}},
            {"data": {"name": "tags"}, "transform": [{"filter": "datum.p == 'R3' && datum.kind == 'temp'"}],
             "mark": {"type": "text", "angle": -33, "color": "#b22222", "fontSize": 13, "baseline": "middle", "align": "center"},
             "encoding": {"x": {"field": "t", "type": "quantitative"}, "y": {"field": "v", "type": "quantitative", "scale": {"domain": [0, 100], "nice": false}, "axis": null}, "text": {"field": "label"}}},
            {"data": {"name": "tags"}, "transform": [{"filter": "datum.p == 'R3' && datum.kind == 'sample'"}],
             "mark": {"type": "text", "color": "#111111", "fontSize": 13, "baseline": "middle", "align": "center"},
             "encoding": {"x": {"field": "t", "type": "quantitative"}, "y": {"field": "v", "type": "quantitative", "scale": {"domain": [0, 100], "nice": false}, "axis": null}, "text": {"field": "label"}}}
          ],
          "resolve": {"scale": {"y": "independent"}}
        }
      ]
    }
  ]
}
